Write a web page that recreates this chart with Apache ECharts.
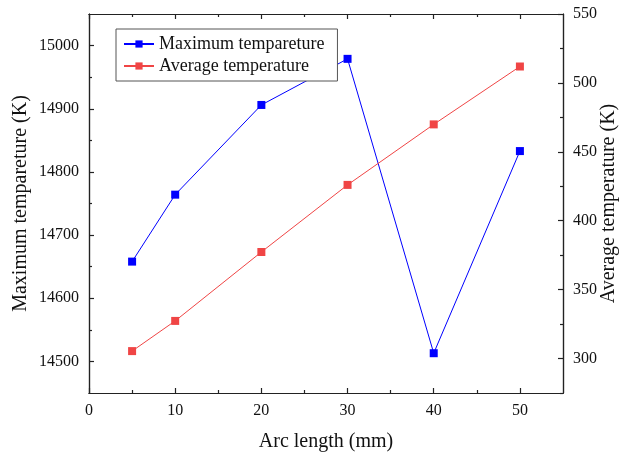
<!DOCTYPE html>
<html>
<head>
<meta charset="utf-8">
<script src="https://cdn.jsdelivr.net/npm/echarts@6/dist/echarts.min.js"></script>
<style>
html,body{margin:0;padding:0;background:#fff;}
#chart{width:619px;height:456px;}
</style>
</head>
<body>
<div id="chart"></div>
<script>
var arcLength = [5, 10, 20, 30, 40, 50];
var maxTemp = [14658, 14764, 14906, 14979, 14513, 14833];
var avgTemp = [305.4, 327.3, 377.3, 426.0, 469.9, 511.9];
var seriesNames = ['Maximum tempareture', 'Average temperature'];

var xMajorTicks = [0, 10, 20, 30, 40, 50];
var xMinorTicks = [5, 15, 25, 35, 45];
var leftMajorTicks = [14500, 14600, 14700, 14800, 14900, 15000];
var leftMinorTicks = [14550, 14650, 14750, 14850, 14950];
var rightMajorTicks = [300, 350, 400, 450, 500, 550];
var rightMinorTicks = [275, 325, 375, 425, 475, 525];

var FONT = '"Liberation Serif", "Times New Roman", serif';
var AX = '#222';

function pairs(xs, ys) { return xs.map(function (x, i) { return [x, ys[i]]; }); }

function axis(pos, min, max, ticks, len, labels, nameOpts) {
  var a = {
    type: 'value', position: pos, min: min, max: max,
    nameMoveOverlap: false,
    axisLine: { show: true, onZero: false, lineStyle: { color: AX, width: 1.2 } },
    axisTick: { show: true, inside: true, length: len, customValues: ticks,
      lineStyle: { color: AX, width: 1.2 } },
    axisLabel: labels ? { show: true, customValues: ticks, margin: 10, color: '#111',
      fontFamily: FONT, fontSize: 16, formatter: function (v) { return String(v); } } : { show: false },
    splitLine: { show: false }
  };
  if (nameOpts) { for (var k in nameOpts) a[k] = nameOpts[k]; }
  return a;
}

var nameStyle = { fontFamily: FONT, fontSize: 20, color: '#111' };

var chart = echarts.init(document.getElementById('chart'), null, { renderer: 'canvas' });
chart.setOption({
  animation: false,
  backgroundColor: '#fff',
  textStyle: { fontFamily: FONT },
  grid: { left: 89, right: 56, top: 14, bottom: 63, containLabel: false, outerBoundsMode: 'none' },
  legend: {
    orient: 'vertical',
    left: 116, top: 29,
    padding: [6, 13, 6, 7],
    itemGap: 4,
    itemWidth: 30, itemHeight: 9,
    borderColor: '#555', borderWidth: 1,
    backgroundColor: '#fff',
    textStyle: { fontFamily: FONT, fontSize: 18, color: '#111' },
    data: seriesNames
  },
  xAxis: [
    axis('bottom', 0, 55, xMajorTicks, 5, true,
      { name: 'Arc length (mm)', nameLocation: 'middle', nameGap: 39, nameTextStyle: nameStyle }),
    axis('bottom', 0, 55, xMinorTicks, 3, false),
    axis('top', 0, 55, xMajorTicks, 5, false),
    axis('top', 0, 55, xMinorTicks, 3, false)
  ],
  yAxis: [
    axis('left', 14450, 15050, leftMajorTicks, 5, true,
      { name: 'Maximum tempareture (K)', nameLocation: 'middle', nameGap: 58, nameRotate: 90,
        nameTextStyle: nameStyle }),
    axis('left', 14450, 15050, leftMinorTicks, 3, false),
    axis('right', 275, 550, rightMajorTicks, 5, true,
      { name: 'Average temperature (K)', nameLocation: 'middle', nameGap: 36, nameRotate: 90,
        nameTextStyle: nameStyle }),
    axis('right', 275, 550, rightMinorTicks, 3, false)
  ],
  series: [
    { name: seriesNames[0], type: 'line', xAxisIndex: 0, yAxisIndex: 0,
      data: pairs(arcLength, maxTemp),
      symbol: 'rect', symbolSize: 8,
      lineStyle: { color: '#0000ff', width: 1 },
      itemStyle: { color: '#0000ff' } },
    { name: seriesNames[1], type: 'line', xAxisIndex: 0, yAxisIndex: 2,
      data: pairs(arcLength, avgTemp),
      symbol: 'rect', symbolSize: 8,
      lineStyle: { color: '#f04545', width: 1 },
      itemStyle: { color: '#f04545' } }
  ]
});
</script>
</body>
</html>
